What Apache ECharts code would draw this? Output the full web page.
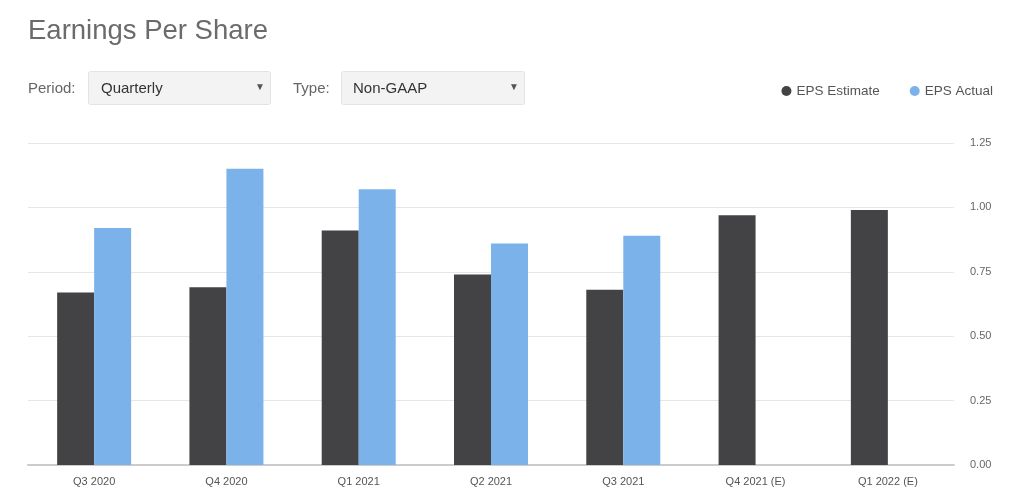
<!DOCTYPE html>
<html><head><meta charset="utf-8">
<script src="https://cdn.jsdelivr.net/npm/echarts@6/dist/echarts.min.js"></script>
<style>html,body{margin:0;padding:0;background:#fff}#c{width:1024px;height:498px}</style>
</head><body><div id="c"></div>
<script>
const categories = ['Q3 2020','Q4 2020','Q1 2021','Q2 2021','Q3 2021','Q4 2021 (E)','Q1 2022 (E)'];
const epsEstimate = [0.67, 0.69, 0.91, 0.74, 0.68, 0.97, 0.99];
const epsActual = [0.92, 1.15, 1.07, 0.86, 0.89, null, null];
const yTicks = [0, 0.25, 0.5, 0.75, 1.0, 1.25];

const chart = echarts.init(document.getElementById('c'));
const font = 'Liberation Sans, Arial, sans-serif';
chart.setOption({
  animation: false,
  textStyle: { fontFamily: font },
  legend: {
    right: 26, top: 79, itemWidth: 10, itemHeight: 10, itemGap: 30,
    icon: 'circle',
    textStyle: { color: '#555', fontSize: 13.5, fontFamily: font },
    data: ['EPS Estimate', 'EPS Actual']
  },
  graphic: [
    { type: 'text', left: 28, top: 17, style: { text: 'Earnings Per Share', fill: '#6b6b6b', font: '27.5px ' + font } },
    { type: 'text', left: 28, top: 81, style: { text: 'Period:', fill: '#666', font: '15px ' + font } },
    { type: 'rect', shape: { x: 88.5, y: 71.5, width: 182, height: 33, r: 2 }, style: { fill: '#f3f3f3', stroke: '#e3e3e3' } },
    { type: 'text', left: 101, top: 81, style: { text: 'Quarterly', fill: '#333', font: '15px ' + font } },
    { type: 'text', left: 255, top: 82, style: { text: '▼', fill: '#555', font: '10px ' + font } },
    { type: 'text', left: 293, top: 81, style: { text: 'Type:', fill: '#666', font: '15px ' + font } },
    { type: 'rect', shape: { x: 341.5, y: 71.5, width: 183, height: 33, r: 2 }, style: { fill: '#f3f3f3', stroke: '#e3e3e3' } },
    { type: 'text', left: 353, top: 81, style: { text: 'Non-GAAP', fill: '#333', font: '15px ' + font } },
    { type: 'text', left: 509, top: 82, style: { text: '▼', fill: '#555', font: '10px ' + font } }
  ],
  grid: { left: 28, right: 70, top: 143, bottom: 33 },
  xAxis: {
    type: 'category', data: categories,
    axisLine: { lineStyle: { color: '#cccccc', width: 2 } },
    axisTick: { show: false },
    axisLabel: { color: '#555', fontSize: 11, margin: 11, fontFamily: 'Liberation Sans Narrow, Arial Narrow, sans-serif' }
  },
  yAxis: {
    type: 'value', position: 'right', min: 0, max: 1.25, interval: 0.25,
    axisLine: { show: false }, axisTick: { show: false },
    splitLine: { lineStyle: { color: '#e6e6e6' } },
    axisLabel: { color: '#666', fontSize: 11, margin: 16, formatter: v => v.toFixed(2), fontFamily: 'Liberation Sans Narrow, Arial Narrow, sans-serif' }
  },
  series: [
    { name: 'EPS Estimate', type: 'bar', data: epsEstimate, barWidth: 37, barGap: '0%', itemStyle: { color: '#434346' } },
    { name: 'EPS Actual', type: 'bar', data: epsActual, barWidth: 37, itemStyle: { color: '#7cb2ea' } }
  ]
});
</script></body></html>
